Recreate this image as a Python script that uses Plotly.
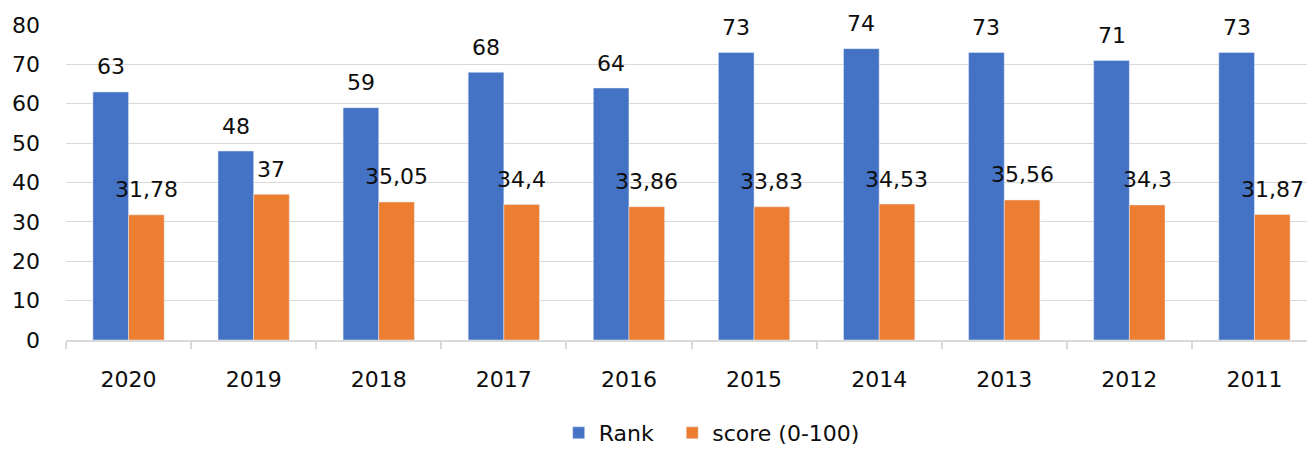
import plotly.graph_objects as go

years = ["2020", "2019", "2018", "2017", "2016", "2015", "2014", "2013", "2012", "2011"]
rank = [63, 48, 59, 68, 64, 73, 74, 73, 71, 73]
score = [31.78, 37, 35.05, 34.4, 33.86, 33.83, 34.53, 35.56, 34.3, 31.87]
y_ticks = [0, 10, 20, 30, 40, 50, 60, 70, 80]

BLUE = "#4472C4"
ORANGE = "#ED7D31"
FONT = "DejaVu Sans"
TXT = "#0d0d0d"
GRID = "#d9d9d9"

def fmt(v):
    s = ("%g" % v)
    return s.replace(".", ",")

fig = go.Figure()
fig.add_trace(go.Bar(x=years, y=rank, name="Rank", marker_color=BLUE, legend="legend"))
fig.add_trace(go.Bar(x=years, y=score, name="score (0-100)", marker_color=ORANGE, legend="legend2"))

half = 17.8
for i, (r, s) in enumerate(zip(rank, score)):
    fig.add_annotation(x=i, y=r, text=fmt(r), showarrow=False, xshift=-half, yshift=25,
                       yanchor="middle", font=dict(family=FONT, size=22, color=TXT))
    fig.add_annotation(x=i, y=s, text=fmt(s), showarrow=False, xshift=half, yshift=25,
                       yanchor="middle", font=dict(family=FONT, size=22, color=TXT))

leg_common = dict(orientation="h", xanchor="left", y=-0.297, yanchor="middle",
                  font=dict(family=FONT, size=22, color=TXT), bgcolor="rgba(0,0,0,0)")
fig.update_layout(
    width=1307, height=454,
    margin=dict(l=66, r=0, t=25, b=105),
    paper_bgcolor="white", plot_bgcolor="white",
    barmode="group", bargap=0.43, bargroupgap=0,
    font=dict(family=FONT, size=22, color=TXT),
    showlegend=True,
    legend=dict(x=0.397, **leg_common),
    legend2=dict(x=0.4885, **leg_common),
)
fig.update_xaxes(
    type="category", range=[-0.5, 9.42], automargin=False,
    showline=True, linecolor=GRID, linewidth=1.5,
    ticks="outside", tickson="boundaries", ticklen=7, tickwidth=1.5, tickcolor=GRID,
    showgrid=False, ticklabelstandoff=19,
    tickfont=dict(family=FONT, size=22, color=TXT),
)
fig.update_yaxes(
    range=[0, 80], tickvals=y_ticks, showgrid=True, gridcolor=GRID, gridwidth=1,
    zeroline=False, showline=False, ticks="", ticklabelstandoff=25, automargin=False,
    tickfont=dict(family=FONT, size=22, color=TXT),
)

fig.write_html(
    "out.html",
    config={"displayModeBar": False},
    post_script="document.body.style.margin='0';document.body.style.overflow='hidden';"
                "document.documentElement.style.overflow='hidden';",
)
